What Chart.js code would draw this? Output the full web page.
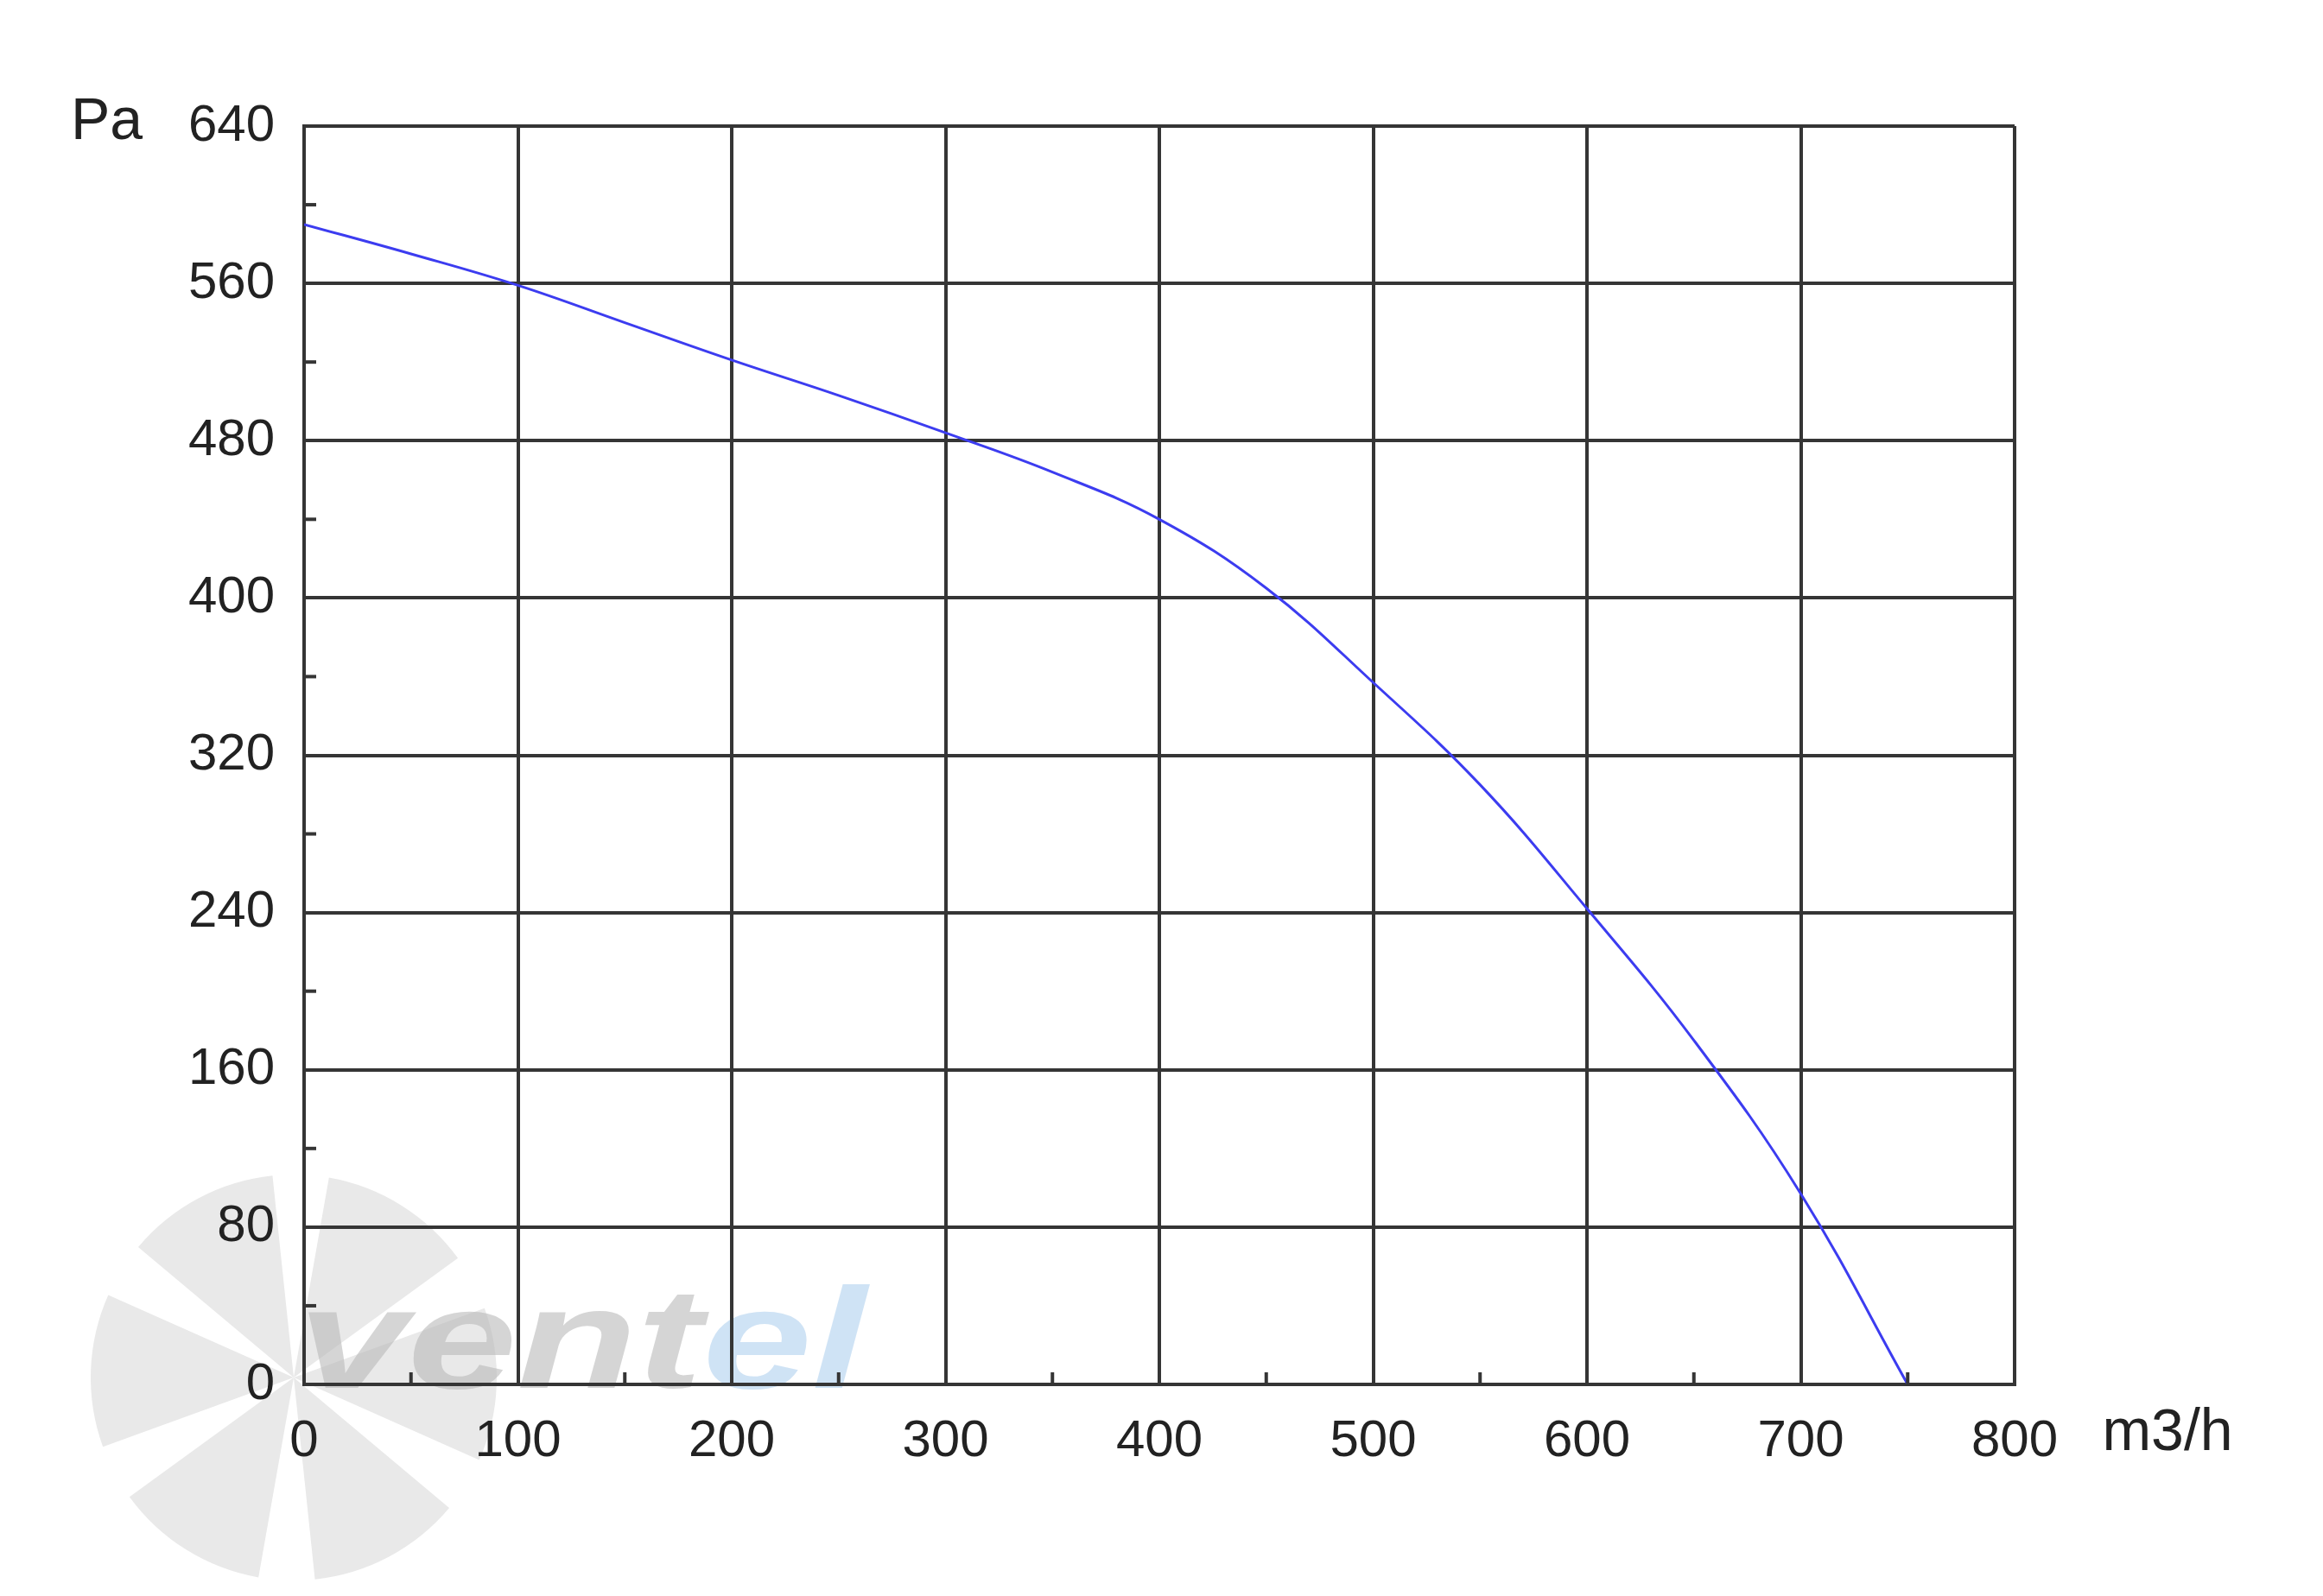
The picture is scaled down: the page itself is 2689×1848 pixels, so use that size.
<!DOCTYPE html>
<html>
<head>
<meta charset="utf-8">
<script src="https://cdn.jsdelivr.net/npm/chart.js@4.4.1/dist/chart.umd.min.js"></script>
<style>
  html, body { margin: 0; padding: 0; background: #fff; }
  #wrap { width: 2689px; height: 1848px; }
</style>
</head>
<body>
<div id="wrap"><canvas id="fanChart" width="2689" height="1848"></canvas></div>
<script>
// air flow (m3/h) and static pressure (Pa)
const flow = [0, 50, 100, 150, 200, 250, 300, 350, 400, 450, 500, 550, 600, 650, 700, 750];
const pressure = [590, 575, 559, 540, 521, 503, 484, 464, 440, 405, 357, 305, 242, 175, 97, 0];

const xTicks = [0, 100, 200, 300, 400, 500, 600, 700, 800];
const yTicks = [0, 80, 160, 240, 320, 400, 480, 560, 640];

const xUnit = 'm3/h';
const yUnit = 'Pa';

const FONT = '"Liberation Sans", Arial, sans-serif';
const GRID = '#353535';

// watermark (fan + brand) behind the grid
const watermark = {
  id: 'watermark',
  beforeDraw(chart) {
    const ctx = chart.ctx;
    const cx = 340, cy = 1595, r = 235;
    ctx.save();
    ctx.fillStyle = '#e9e9e9';
    for (let i = 0; i < 6; i++) {
      const a0 = (i * 60 + 100) * Math.PI / 180;
      const a1 = a0 + 44 * Math.PI / 180;
      ctx.beginPath();
      ctx.moveTo(cx, cy);
      ctx.arc(cx, cy, r, a0, a1);
      ctx.closePath();
      ctx.fill();
    }
    ctx.translate(345, 1607);
    ctx.scale(1.38, 1);
    ctx.font = 'italic bold 165px ' + FONT;
    ctx.textBaseline = 'alphabetic';
    ctx.fillStyle = 'rgba(185,185,185,0.6)';
    ctx.fillText('vent', 0, 0);
    const w = ctx.measureText('vent').width;
    ctx.fillStyle = 'rgba(160,200,235,0.5)';
    ctx.fillText('el', w, 0);
    ctx.restore();
  }
};

// minor inner ticks + unit labels
const decorations = {
  id: 'decorations',
  afterDraw(chart) {
    const ctx = chart.ctx;
    const { x, y } = chart.scales;
    const area = chart.chartArea;
    ctx.save();
    ctx.strokeStyle = GRID;
    ctx.lineWidth = 4;
    for (let i = 0; i < yTicks.length - 1; i++) {
      const py = y.getPixelForValue((yTicks[i] + yTicks[i + 1]) / 2);
      ctx.beginPath();
      ctx.moveTo(area.left, py);
      ctx.lineTo(area.left + 14, py);
      ctx.stroke();
    }
    for (let i = 0; i < xTicks.length - 1; i++) {
      const px = x.getPixelForValue((xTicks[i] + xTicks[i + 1]) / 2);
      ctx.beginPath();
      ctx.moveTo(px, area.bottom);
      ctx.lineTo(px, area.bottom - 14);
      ctx.stroke();
    }
    ctx.fillStyle = '#222';
    ctx.font = '68px ' + FONT;
    ctx.textBaseline = 'middle';
    ctx.textAlign = 'left';
    ctx.fillText(yUnit, 82, 142);
    ctx.textAlign = 'center';
    ctx.fillText(xUnit, 2509, 1660);
    ctx.restore();
  }
};

const ctx = document.getElementById('fanChart').getContext('2d');
new Chart(ctx, {
  type: 'line',
  data: {
    datasets: [{
      label: 'Pa',
      data: flow.map((f, i) => ({ x: f, y: pressure[i] })),
      borderColor: '#3c3cf0',
      backgroundColor: 'transparent',
      borderWidth: 3,
      pointRadius: 0,
      tension: 0.4,
      fill: false
    }]
  },
  options: {
    responsive: false,
    animation: false,
    devicePixelRatio: 1,
    layout: { padding: { top: 146, right: 357, left: 0, bottom: 0 } },
    plugins: {
      legend: { display: false },
      tooltip: { enabled: false }
    },
    scales: {
      x: {
        type: 'linear',
        min: 0,
        max: 800,
        afterBuildTicks: s => { s.ticks = xTicks.map(v => ({ value: v })); },
        afterFit: s => { s.height = 245; },
        grid: { color: GRID, lineWidth: 4, drawTicks: false },
        border: { color: GRID, width: 4 },
        ticks: {
          color: '#222',
          padding: 30,
          maxRotation: 0,
          autoSkip: false,
          font: { family: FONT, size: 60 }
        }
      },
      y: {
        type: 'linear',
        min: 0,
        max: 640,
        afterBuildTicks: s => { s.ticks = yTicks.map(v => ({ value: v })); },
        afterFit: s => { s.width = 352; },
        grid: { color: GRID, lineWidth: 4, drawTicks: false },
        border: { color: GRID, width: 4 },
        ticks: {
          color: '#222',
          padding: 34,
          autoSkip: false,
          font: { family: FONT, size: 60 }
        }
      }
    }
  },
  plugins: [watermark, decorations]
});
</script>
</body>
</html>
